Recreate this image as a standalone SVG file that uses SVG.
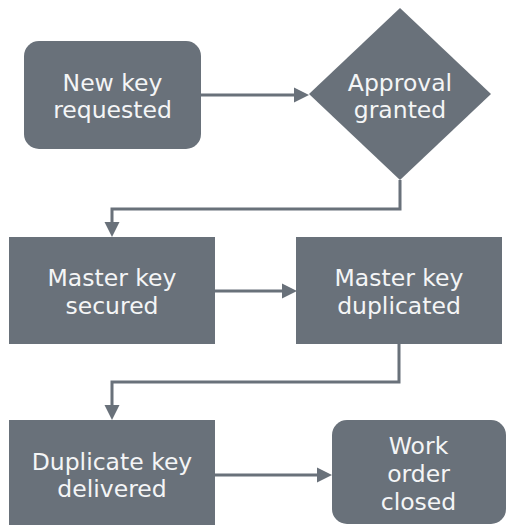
<svg xmlns="http://www.w3.org/2000/svg" width="506" height="525" viewBox="0 0 506 525">
<defs>
<style>
.n{fill:#69717a;}
.t{font-family:"DejaVu Sans","Verdana",sans-serif;font-size:23.5px;fill:#f4f5f6;text-anchor:middle;}
.c{fill:none;stroke:#69717a;stroke-width:3;}
.h{fill:#69717a;}
</style>
</defs>
<rect width="506" height="525" fill="#ffffff"/>
<g id="connectors">
<path class="c" d="M201,95 H295"/>
<polygon class="h" points="294,87.5 309,95 294,102.5"/>
<path class="c" d="M400,180 V209 H112 V223"/>
<polygon class="h" points="104.5,222 112,237 119.5,222"/>
<path class="c" d="M215,291 H283"/>
<polygon class="h" points="282,283.5 297,291 282,298.5"/>
<path class="c" d="M399,344 V382 H112 V406"/>
<polygon class="h" points="104.5,405 112,420 119.5,405"/>
<path class="c" d="M215,475 H318"/>
<polygon class="h" points="317,467.5 332,475 317,482.5"/>
</g>
<g id="node1">
<rect class="n" x="24" y="41" width="177" height="108" rx="15"/>
<text class="t" x="112.5" y="91">New key</text>
<text class="t" x="112.5" y="118">requested</text>
</g>
<g id="node2">
<polygon class="n" points="400,8 491,94 400,180 309,94"/>
<text class="t" x="400" y="91">Approval</text>
<text class="t" x="400" y="118">granted</text>
</g>
<g id="node3">
<rect class="n" x="9" y="237" width="206" height="107"/>
<text class="t" x="112" y="286">Master key</text>
<text class="t" x="112" y="314">secured</text>
</g>
<g id="node4">
<rect class="n" x="296" y="237" width="206" height="107"/>
<text class="t" x="399" y="286">Master key</text>
<text class="t" x="399" y="314">duplicated</text>
</g>
<g id="node5">
<rect class="n" x="9" y="420" width="206" height="110"/>
<text class="t" x="112" y="470">Duplicate key</text>
<text class="t" x="112" y="497">delivered</text>
</g>
<g id="node6">
<rect class="n" x="332" y="420" width="174" height="104" rx="15"/>
<text class="t" x="418.5" y="454">Work</text>
<text class="t" x="418.5" y="482">order</text>
<text class="t" x="418.5" y="510">closed</text>
</g>
</svg>
